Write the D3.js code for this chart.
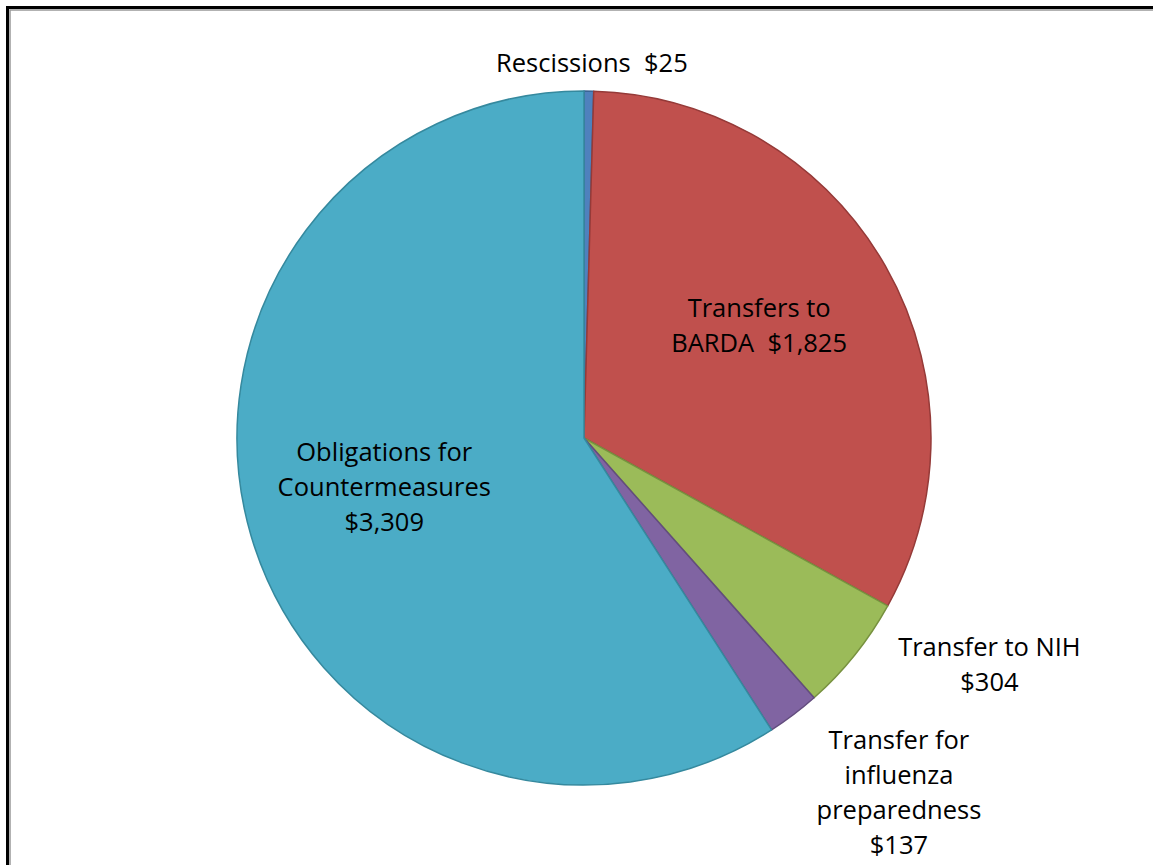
<!DOCTYPE html>
<html>
<head>
<meta charset="utf-8">
<script src="https://cdn.jsdelivr.net/npm/d3@7"></script>
<style>
  html, body { margin: 0; padding: 0; background: #fff; }
  text { white-space: pre; }
</style>
</head>
<body>
<svg id="chart"></svg>
<script>
const categories = ["Rescissions", "Transfers to BARDA", "Transfer to NIH", "Transfer for influenza preparedness", "Obligations for Countermeasures"];
const values = [25, 1825, 304, 137, 3309];
const labelLines = [
  ["Rescissions  $25"],
  ["Transfers to", "BARDA  $1,825"],
  ["Transfer to NIH", "$304"],
  ["Transfer for", "influenza", "preparedness", "$137"],
  ["Obligations for", "Countermeasures", "$3,309"]
];
const fills = ["#4F81BD", "#C0504D", "#9BBB59", "#8064A2", "#4BACC6"];
const strokes = ["#3A6494", "#953A38", "#77913F", "#634D7E", "#35899E"];

const width = 1153, height = 865;
const cx = 584, cy = 438, radius = 347;
const lineHeight = 35;

const svg = d3.select("#chart")
  .attr("width", width)
  .attr("height", height)
  .style("font", "25.5px 'Open Sans', sans-serif");

// frame (only top and left edges show)
svg.append("rect")
  .attr("x", 7.5).attr("y", 7.5)
  .attr("width", width + 20).attr("height", height + 20)
  .attr("fill", "none").attr("stroke", "#000").attr("stroke-width", 3);
svg.append("rect")
  .attr("x", 10).attr("y", 10)
  .attr("width", width + 20).attr("height", height + 20)
  .attr("fill", "none").attr("stroke", "#999").attr("stroke-width", 1.5);

const pie = d3.pie().sort(null).value(d => d);
const arcs = pie(values);

const arc = d3.arc().innerRadius(0).outerRadius(radius);

const g = svg.append("g").attr("transform", `translate(${cx},${cy})`);

g.selectAll("path")
  .data(arcs)
  .join("path")
  .attr("d", arc)
  .attr("fill", (d, i) => fills[i])
  .attr("stroke", (d, i) => strokes[i])
  .attr("stroke-width", 1.5)
  .attr("stroke-linejoin", "round");

// label placement: radius factor, angle nudge (degrees), vertical nudge per slice
const labelPos = [
  { r: 1.08, da: 0.4, dy: 0 },
  { r: 0.60, da: -3, dy: 0 },
  { r: 1.345, da: -9, dy: -5 },
  { r: 1.38, da: -4, dy: -6 },
  { r: 0.60, da: 0, dy: -10 }
];

g.selectAll("text")
  .data(arcs)
  .join("text")
  .attr("text-anchor", "middle")
  .attr("fill", "#000")
  .each(function(d, i) {
    const p = labelPos[i];
    const a = (d.startAngle + d.endAngle) / 2 + p.da * Math.PI / 180;
    const rr = radius * p.r;
    const x = rr * Math.sin(a);
    const y = -rr * Math.cos(a) + p.dy;
    const lines = labelLines[i];
    const y0 = y - (lines.length - 1) * lineHeight / 2 + 9;
    d3.select(this).selectAll("tspan")
      .data(lines)
      .join("tspan")
      .attr("x", x)
      .attr("y", (l, k) => y0 + k * lineHeight)
      .text(l => l);
  });
</script>
</body>
</html>
